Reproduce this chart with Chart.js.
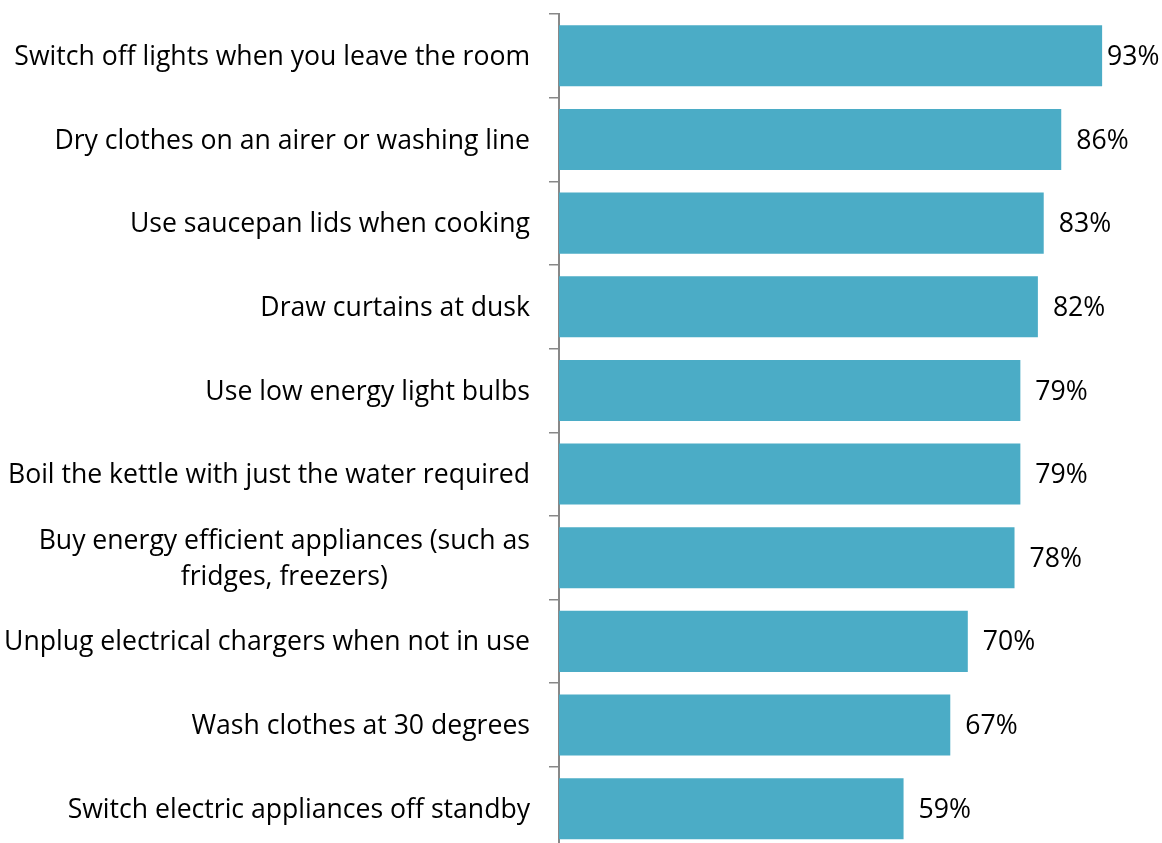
<!DOCTYPE html>
<html lang="en">
<head>
    <meta charset="UTF-8">
    <title>Energy saving habits</title>
    <script src="https://cdn.jsdelivr.net/npm/chart.js"></script>
    <style>
        html, body {
            margin: 0;
            padding: 0;
            background: white;
            overflow: hidden;
        }
        .chart-container {
            position: relative;
            width: 1162px;
            height: 860px;
        }
    </style>
</head>
<body>
    <div class="chart-container">
        <canvas id="habitsChart"></canvas>
    </div>

    <script>
        const habits = [
            ["Switch off lights when you leave the room"],
            ["Dry clothes on an airer or washing line"],
            ["Use saucepan lids when cooking"],
            ["Draw curtains at dusk"],
            ["Use low energy light bulbs"],
            ["Boil the kettle with just the water required"],
            ["Buy energy efficient appliances (such as", "fridges, freezers)"],
            ["Unplug electrical chargers when not in use"],
            ["Wash clothes at 30 degrees"],
            ["Switch electric appliances off standby"]
        ];
        const percentages = [93, 86, 83, 82, 79, 79, 78, 70, 67, 59];

        const FONT = "'Open Sans', sans-serif";
        const FONT_SIZE = 26.6;

        // category labels: right edge at the tick, lines of a wrapped label centred on each other
        const categoryLabels = {
            id: 'categoryLabels',
            afterDraw(chart) {
                const ctx = chart.ctx;
                const y = chart.scales.y;
                const right = chart.chartArea.left - 29;
                ctx.save();
                ctx.font = FONT_SIZE + 'px ' + FONT;
                ctx.fillStyle = '#000';
                ctx.textAlign = 'center';
                ctx.textBaseline = 'middle';
                habits.forEach((lines, i) => {
                    const widest = Math.max(...lines.map(l => ctx.measureText(l).width));
                    const cx = right - widest / 2;
                    const lineHeight = 36;
                    const cy = y.getPixelForValue(i) + 1.5;
                    lines.forEach((line, j) => {
                        ctx.fillText(line, cx, cy + (j - (lines.length - 1) / 2) * lineHeight);
                    });
                });
                ctx.restore();
            }
        };

        // percentage printed past the end of each bar, pulled in a little near the right edge
        const valueLabels = {
            id: 'valueLabels',
            afterDatasetsDraw(chart) {
                const ctx = chart.ctx;
                const meta = chart.getDatasetMeta(0);
                ctx.save();
                ctx.font = FONT_SIZE + 'px ' + FONT;
                ctx.fillStyle = '#000';
                ctx.textAlign = 'left';
                ctx.textBaseline = 'middle';
                meta.data.forEach((bar, i) => {
                    const text = percentages[i] + '%';
                    const w = ctx.measureText(text).width;
                    const x = Math.max(bar.x + 5, Math.min(bar.x + 15, chart.width - 3 - w));
                    ctx.fillText(text, x, bar.y + 1.5);
                });
                ctx.restore();
            }
        };

        const ctx = document.getElementById('habitsChart').getContext('2d');

        new Chart(ctx, {
            type: 'bar',
            data: {
                labels: habits,
                datasets: [{
                    data: percentages,
                    backgroundColor: '#4BACC6',
                    borderWidth: 0,
                    categoryPercentage: 1,
                    barPercentage: 0.73
                }]
            },
            options: {
                indexAxis: 'y',
                responsive: true,
                maintainAspectRatio: false,
                animation: false,
                layout: {
                    padding: { top: 14, right: 19, bottom: 9.5, left: 0 }
                },
                scales: {
                    x: {
                        display: false,
                        min: 0,
                        max: 100
                    },
                    y: {
                        afterFit(scale) { scale.width = 559; },
                        grid: {
                            offset: true,
                            drawOnChartArea: false,
                            drawTicks: true,
                            tickLength: 10,
                            color: '#888888',
                            lineWidth: 1.5
                        },
                        border: { color: '#888888', width: 2 },
                        ticks: { display: false }
                    }
                },
                plugins: {
                    legend: { display: false },
                    tooltip: { enabled: false }
                }
            },
            plugins: [categoryLabels, valueLabels]
        });
    </script>
</body>
</html>
